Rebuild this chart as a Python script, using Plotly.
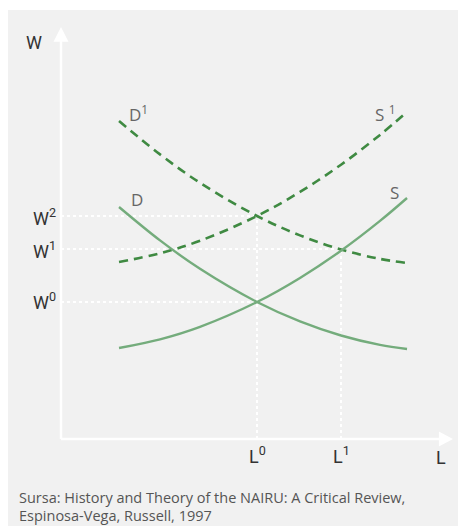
import plotly.graph_objects as go

# ---- data (conceptual units: 0..100 on both axes) ----
L_grid = [14.80, 25.26, 35.46, 50.00, 60.97, 71.43, 81.38, 88.27]
D_vals = [56.31, 48.20, 41.31, 33.25, 28.54, 25.12, 22.84, 21.84]
S_vals = [22.09, 24.20, 27.23, 33.25, 39.10, 45.70, 52.94, 58.50]
D1_vals = [77.18, 69.08, 62.18, 54.13, 49.42, 46.00, 43.71, 42.72]
S1_vals = [42.96, 45.07, 48.11, 54.13, 59.98, 66.58, 73.81, 79.37]

L0, L1 = 50.0, 71.43
W0, W1, W2 = 33.25, 46.12, 54.13

source_lines = ["Sursa: History and Theory of the NAIRU: A Critical Review,",
                "Espinosa-Vega, Russell, 1997"]

# The page body has an 8px margin, so the figure starts at (8, 8)
OFF = 8
W_PX, H_PX = 466 - OFF, 526 - OFF
sx = (453 - 61) / 100.0
sy = (439 - 27) / 100.0
X0 = 61 - OFF   # figure px of data x=0
Y0 = 439 - OFF  # figure px of data y=0
xr = [-X0 / sx, (W_PX - X0) / sx]
yr = [-(H_PX - Y0) / sy, Y0 / sy]

SOLID = "#74ac7c"
DASH = "#3f8a42"
BG = "#f1f1f1"

fig = go.Figure()

# dotted guide lines
guide = dict(color="white", width=2, dash="dot")
for xs, ys in [([0, L0], [W0, W0]), ([0, L0], [W2, W2]), ([0, L1], [W1, W1]),
               ([L0, L0], [0, W2]), ([L1, L1], [0, W1])]:
    fig.add_trace(go.Scatter(x=xs, y=ys, mode="lines", line=guide, hoverinfo="skip"))

# axes lines
fig.add_trace(go.Scatter(x=[0, 0], y=[0, 97], mode="lines",
                         line=dict(color="white", width=2.5), hoverinfo="skip"))
fig.add_trace(go.Scatter(x=[0, 97], y=[0, 0], mode="lines",
                         line=dict(color="white", width=2.5), hoverinfo="skip"))

# curves
fig.add_trace(go.Scatter(x=L_grid, y=D1_vals, mode="lines", line_shape="spline",
                         line=dict(color=DASH, width=2.6, dash="9px,6px")))
fig.add_trace(go.Scatter(x=L_grid, y=S1_vals, mode="lines", line_shape="spline",
                         line=dict(color=DASH, width=2.6, dash="9px,6px")))
fig.add_trace(go.Scatter(x=L_grid, y=D_vals, mode="lines", line_shape="spline",
                         line=dict(color=SOLID, width=2.4)))
fig.add_trace(go.Scatter(x=L_grid, y=S_vals, mode="lines", line_shape="spline",
                         line=dict(color=SOLID, width=2.4)))

shapes = [
    dict(type="rect", xref="paper", yref="paper", x0=0, x1=1,
         y0=0, y1=1 - 2 / H_PX, fillcolor=BG, line=dict(width=0), layer="below"),
    # arrow heads
    dict(type="path", xref="x", yref="y",
         path=f"M {-7.5/sx} 96.4 L {7.5/sx} 96.4 L 0 100 Z",
         fillcolor="white", line=dict(width=0)),
    dict(type="path", xref="x", yref="y",
         path=f"M 96.4 {-7.5/sy} L 96.4 {7.5/sy} L 100 0 Z",
         fillcolor="white", line=dict(width=0)),
]

AX_FONT = dict(family="Roboto, sans-serif", size=18, color="#333333")
CURVE_FONT = dict(family="Open Sans, sans-serif", size=17, color="#666666")


def px2x(p):
    return (p - 61) / sx


def py2y(p):
    return (439 - p) / sy


ann = []
ann.append(dict(x=px2x(44), y=py2y(42), text="W", showarrow=False, xanchor="right", font=AX_FONT))
ann.append(dict(x=px2x(58), y=W2, text="W<sup>2</sup>", showarrow=False, xanchor="right", font=AX_FONT, yshift=-1))
ann.append(dict(x=px2x(58), y=W1, text="W<sup>1</sup>", showarrow=False, xanchor="right", font=AX_FONT, yshift=-1))
ann.append(dict(x=px2x(58), y=W0, text="W<sup>0</sup>", showarrow=False, xanchor="right", font=AX_FONT, yshift=1))
ann.append(dict(x=L0, y=py2y(455), text="L<sup>0</sup>", showarrow=False, font=AX_FONT))
ann.append(dict(x=L1, y=py2y(455), text="L<sup>1</sup>", showarrow=False, font=AX_FONT))
ann.append(dict(x=px2x(441), y=py2y(457), text="L", showarrow=False, font=AX_FONT))

ann.append(dict(x=px2x(127), y=py2y(113), text="D<sup>1</sup>", showarrow=False, xanchor="left", font=CURVE_FONT))
ann.append(dict(x=px2x(373), y=py2y(113), text="S <sup>1</sup>", showarrow=False, xanchor="left", font=CURVE_FONT))
ann.append(dict(x=px2x(129), y=py2y(199), text="D", showarrow=False, xanchor="left", font=CURVE_FONT))
ann.append(dict(x=px2x(388), y=py2y(192), text="S", showarrow=False, xanchor="left", font=CURVE_FONT))

SRC_FONT = dict(family="Open Sans, sans-serif", size=14.5, color="#555555")
ann.append(dict(xref="paper", yref="paper", x=(20 - OFF) / W_PX, y=1 - (497 - OFF) / H_PX,
                text=source_lines[0], showarrow=False, xanchor="left", xshift=-3,
                yanchor="middle", font=SRC_FONT))
ann.append(dict(xref="paper", yref="paper", x=(20 - OFF) / W_PX, y=1 - (515 - OFF) / H_PX,
                text=source_lines[1], showarrow=False, xanchor="left", xshift=-3,
                yanchor="middle", font=SRC_FONT))

fig.update_layout(
    width=W_PX, height=H_PX,
    margin=dict(l=0, r=0, t=0, b=0),
    paper_bgcolor="white", plot_bgcolor="rgba(0,0,0,0)",
    showlegend=False,
    xaxis=dict(range=xr, visible=False, fixedrange=True),
    yaxis=dict(range=yr, visible=False, fixedrange=True),
    shapes=shapes, annotations=ann,
)

fig.write_html("out.html", config={"displayModeBar": False})
